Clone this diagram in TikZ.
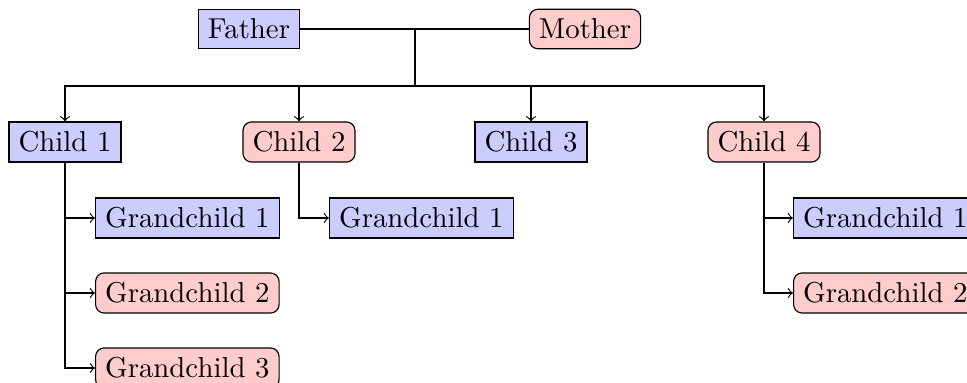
\documentclass[tikz,border=0pt]{standalone}
\usetikzlibrary{arrows}
\begin{document}
\begin{tikzpicture}[x=0.3472pt,y=-0.3472pt,
  man/.style={draw,fill=blue!20,rectangle,inner sep=3.33pt},
  woman/.style={draw,fill=red!20,rectangle,rounded corners=3pt,inner sep=3.33pt},
  link/.style={->}]
\useasboundingbox (0,0) rectangle (967,383);
\node[man] (f) at (249,29) {Father};
\node[woman] (m) at (585,29) {Mother};
\coordinate (j) at (415,29);
\coordinate (k) at (415,86);
\node[man] (c1) at (65,142) {Child 1};
\node[woman] (c2) at (299,142) {Child 2};
\node[man] (c3) at (531,142) {Child 3};
\node[woman] (c4) at (764,142) {Child 4};
\node[man,anchor=west] (g11) at (95,218) {Grandchild 1};
\node[woman,anchor=west] (g12) at (95,293) {Grandchild 2};
\node[woman,anchor=west] (g13) at (95,368) {Grandchild 3};
\node[man,anchor=west] (g21) at (329,218) {Grandchild 1};
\node[man,anchor=west] (g41) at (793,218) {Grandchild 1};
\node[woman,anchor=west] (g42) at (793,293) {Grandchild 2};
\draw (f) -- (m);
\draw (j) -- (k);
\draw[link] (k) -| (c1);
\draw[link] (k) -| (c2);
\draw[link] (k) -| (c3);
\draw[link] (k) -| (c4);
\draw[link] (c1) |- (g11);
\draw[link] (c1) |- (g12);
\draw[link] (c1) |- (g13);
\draw[link] (c2) |- (g21);
\draw[link] (c4) |- (g41);
\draw[link] (c4) |- (g42);
\end{tikzpicture}
\end{document}
